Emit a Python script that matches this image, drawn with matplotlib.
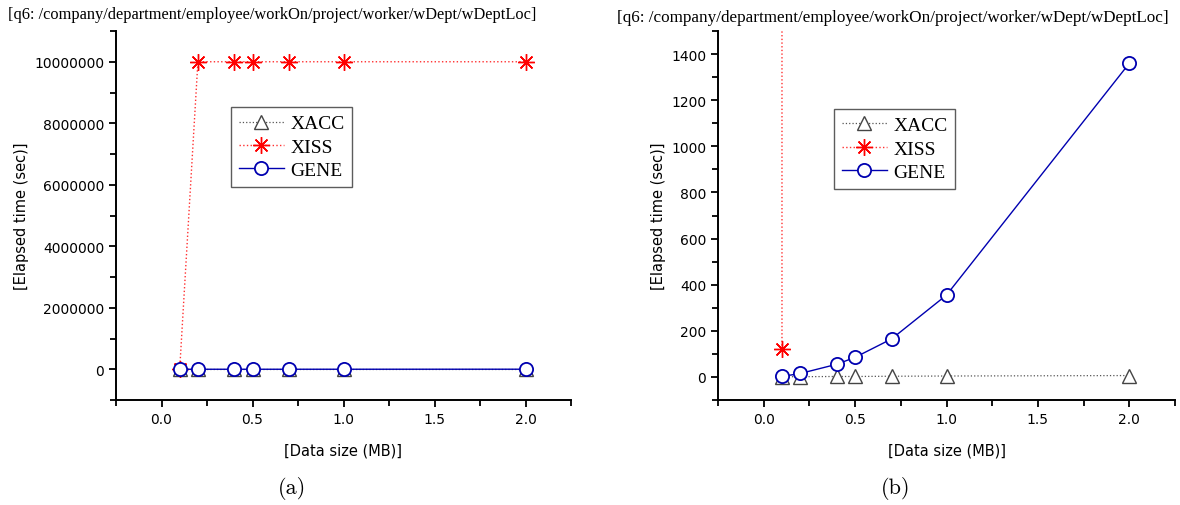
import numpy as np
import matplotlib
matplotlib.use("Agg")
import matplotlib.pyplot as plt
from matplotlib.ticker import MultipleLocator, FuncFormatter

# data
data_size = [0.1, 0.2, 0.4, 0.5, 0.7, 1.0, 2.0]
xacc = [1, 1, 2, 2, 3, 4, 6]
xiss = [120, 10000000, 10000000, 10000000, 10000000, 10000000, 10000000]
gene = [2, 15, 55, 85, 165, 355, 1360]

title = "[q6: /company/department/employee/workOn/project/worker/wDept/wDeptLoc]"
xlabel = "[Data size (MB)]"
ylabel = "[Elapsed time (sec)]"

fig = plt.figure(figsize=(11.8, 5.06), dpi=100)
ax_a = fig.add_axes([116 / 1180, 1 - 401 / 506, 455 / 1180, 369 / 506])
ax_b = fig.add_axes([718 / 1180, 1 - 401 / 506, 457 / 1180, 369 / 506])


def draw_panel(ax, ylim, ymajor, yminor, legend_anchor):
    ax.plot(data_size, xacc, color="#555555", linestyle=":", linewidth=0.9,
            marker="^", markersize=10, markerfacecolor="white",
            markeredgecolor="#444444", markeredgewidth=1.0, label="XACC", zorder=3)
    ax.plot(data_size, xiss, color="#ff3030", linestyle=":", linewidth=1.0,
            marker=(8, 2, 0), markersize=12, markeredgecolor="red",
            markeredgewidth=1.0, label="XISS", zorder=2)
    ax.plot(data_size, gene, color="#0000b0", linestyle="-", linewidth=1.0,
            marker="o", markersize=9.5, markerfacecolor="white",
            markeredgecolor="#0000b0", markeredgewidth=1.3, label="GENE", zorder=4)

    ax.set_xlim(-0.25, 2.25)
    ax.set_ylim(*ylim)
    ax.xaxis.set_major_locator(MultipleLocator(0.5))
    ax.xaxis.set_minor_locator(MultipleLocator(0.25))
    ax.yaxis.set_major_locator(MultipleLocator(ymajor))
    ax.yaxis.set_minor_locator(MultipleLocator(yminor))
    ax.xaxis.set_major_formatter(FuncFormatter(lambda v, p: f"{v:.1f}"))
    ax.yaxis.set_major_formatter(FuncFormatter(lambda v, p: f"{int(round(v))}"))

    for side in ("top", "right"):
        ax.spines[side].set_visible(False)
    for side in ("left", "bottom"):
        ax.spines[side].set_linewidth(1.4)
    ax.tick_params(which="both", direction="out", width=1.3, labelsize=10,
                   labelfontfamily="DejaVu Sans")
    ax.tick_params(which="major", length=5)
    ax.tick_params(which="minor", length=4)

    ax.set_xlabel(xlabel, fontsize=10.5, family="DejaVu Sans", labelpad=12)
    ax.set_ylabel(ylabel, fontsize=10.5, family="DejaVu Sans", labelpad=4)

    leg = ax.legend(loc="upper left", bbox_to_anchor=legend_anchor,
                    prop={"family": "Liberation Serif", "size": 14},
                    frameon=True, fancybox=False, handlelength=2.3,
                    handletextpad=0.35, labelspacing=0.3, borderpad=0.4,
                    borderaxespad=0)
    leg.get_frame().set_edgecolor("#333333")
    leg.get_frame().set_linewidth(1.0)


draw_panel(ax_a, (-1000000, 11000000), 2000000, 1000000, (0.253, 0.794))
draw_panel(ax_b, (-100, 1500), 200, 100, (0.254, 0.789))

fig.text(8 / 1180, 1 - 15 / 506, title, family="Liberation Serif", fontsize=11.75,
         ha="left", va="center")
fig.text(617 / 1180, 1 - 18 / 506, title, family="Liberation Serif", fontsize=12.35,
         ha="left", va="center")

fig.text(292 / 1180, 1 - 489 / 506, "(a)", family="cmr10", fontsize=16,
         ha="center", va="center")
fig.text(896 / 1180, 1 - 489 / 506, "(b)", family="cmr10", fontsize=16,
         ha="center", va="center")

fig.savefig("out.png", dpi=100)
